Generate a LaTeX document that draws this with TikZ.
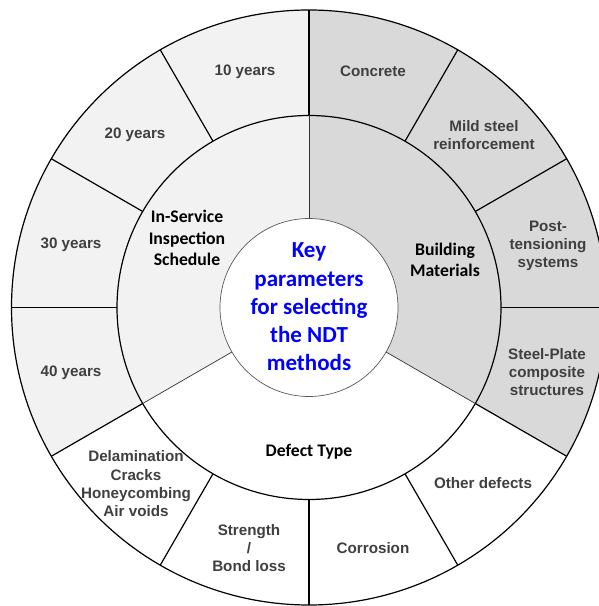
\documentclass[tikz,border=0pt]{standalone}
\usepackage{fontspec}
\setmainfont{Liberation Sans}
\newfontfamily\calib{Carlito}
\definecolor{labelgray}{HTML}{3F3F3F}
\definecolor{inspfill}{HTML}{F2F2F2}
\definecolor{matfill}{HTML}{D9D9D9}
\definecolor{keyblue}{HTML}{0000FF}
\begin{document}
\begin{tikzpicture}[x=1pt,y=1pt,
  outerlbl/.style={font=\fontsize{15.2}{18.3}\selectfont\bfseries, text=labelgray, align=center, inner sep=0pt},
  midlbl/.style={font=\calib\fontsize{17.7}{21.6}\selectfont\bfseries, text=black, align=center, inner sep=0pt},
  keylbl/.style={font=\calib\fontsize{23}{28.3}\selectfont\bfseries, text=keyblue, align=center, inner sep=0pt},
  ringline/.style={black, line width=1.2pt},
  innerline/.style={black!80, line width=0.7pt},
  hubline/.style={black!65, line width=0.7pt}]
\useasboundingbox (0,0) rectangle (599,606);
\clip (0,0) rectangle (599,606);
\fill[white] (0,0) rectangle (599,606);
\begin{scope}[shift={(309,298.5)}]
  % sector fills
  \fill[inspfill] (90:89) -- (90:297.5) arc (90:210:297.5) -- (210:89) arc (210:90:89) -- cycle;
  \fill[matfill] (-30:89) -- (-30:297.5) arc (-30:90:297.5) -- (90:89) arc (90:-30:89) -- cycle;
  % circles
  \draw[ringline] (0,0) circle (297.5);
  \draw[ringline] (0,0) circle (192);
  % outer radial lines
  \foreach \a in {0,30,...,330} {
    \draw[ringline] (\a:192) -- (\a:297.5);
  }
  % inner radial lines
  \foreach \a in {90,210,330} {
    \draw[innerline] (\a:89) -- (\a:192);
  }
  % hub
  \draw[hubline, fill=white] (0,0) circle (89);
\end{scope}
% center text
\node[keylbl] (key) at (309,299) {Key\\parameters\\for selecting\\the NDT\\methods};
% middle ring labels
\node[midlbl] (insp) at (187,368) {In-Service\\Inspection\\Schedule};
\node[midlbl] (mat) at (445,346) {Building\\Materials};
\node[midlbl] (defect) at (309,154) {Defect Type};
% outer ring labels
\node[outerlbl] (y10) at (245,534) {10 years};
\node[outerlbl] (y20) at (135,471) {20 years};
\node[outerlbl] (y30) at (71,361) {30 years};
\node[outerlbl] (y40) at (71,233) {40 years};
\node[outerlbl] (conc) at (373,535) {Concrete};
\node[outerlbl] (mild) at (484,471) {Mild steel\\reinforcement};
\node[outerlbl] (post) at (548,360) {Post-\\tensioning\\systems};
\node[outerlbl] (plate) at (547,234) {Steel-Plate\\composite\\structures};
\node[outerlbl] (other) at (483,123) {Other defects};
\node[outerlbl] (corr) at (373,58) {Corrosion};
\node[outerlbl] (bond) at (249,58) {Strength\\/\\Bond loss};
\node[outerlbl] (delam) at (136,122) {Delamination\\Cracks\\Honeycombing\\Air voids};
\end{tikzpicture}
\end{document}
